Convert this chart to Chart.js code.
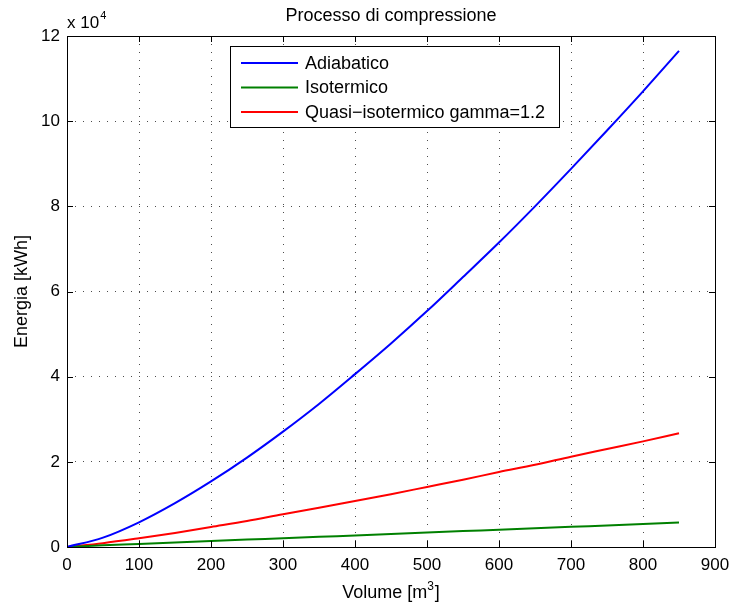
<!DOCTYPE html>
<html lang="it">
<head>
    <meta charset="UTF-8">
    <title>Processo di compressione</title>
    <script src="https://cdn.jsdelivr.net/npm/chart.js@4.4.0/dist/chart.umd.min.js"></script>
    <style>
        * { margin: 0; padding: 0; box-sizing: border-box; }
        body { background: #ffffff; width: 734px; height: 608px; overflow: hidden; }
        .chart-wrapper { position: relative; width: 734px; height: 608px; }
    </style>
</head>
<body>
    <div class="chart-wrapper">
        <canvas id="compChart"></canvas>
    </div>

    <script>
        // dati (volume in m3, energia in kWh)
        const volumes = [0, 50, 100, 150, 200, 250, 300, 350, 400, 450, 500, 550, 600, 650, 700, 750, 800, 850];
        const adiabatico = [0, 2200, 5800, 10300, 15400, 21000, 27100, 33600, 40600, 47800, 55400, 63400, 71500, 80000, 88800, 97800, 107000, 116500];
        const isotermico = [0, 400, 700, 1050, 1400, 1750, 2050, 2400, 2700, 3050, 3400, 3750, 4050, 4400, 4750, 5050, 5400, 5750];
        const quasiIsotermico = [0, 900, 2050, 3300, 4700, 6100, 7700, 9200, 10800, 12400, 14100, 15800, 17600, 19300, 21200, 23000, 24800, 26700];

        const xTicks = [0, 100, 200, 300, 400, 500, 600, 700, 800, 900];
        const yTicks = [0, 2, 4, 6, 8, 10, 12]; // x 10^4
        const yFactor = 10000;

        const seriesLabels = ['Adiabatico', 'Isotermico', 'Quasi\u2212isotermico gamma=1.2'];
        const seriesColors = ['#0000ff', '#008000', '#ff0000'];

        const FONT = "'Liberation Sans', Arial, Helvetica, sans-serif";

        function toPoints(arr) {
            return volumes.map((v, i) => ({ x: v, y: arr[i] }));
        }

        const datasets = [adiabatico, isotermico, quasiIsotermico].map((arr, i) => ({
            label: seriesLabels[i],
            data: toPoints(arr),
            borderColor: seriesColors[i],
            backgroundColor: seriesColors[i],
            borderWidth: 2,
            pointRadius: 0,
            fill: false,
            cubicInterpolationMode: 'monotone'
        }));

        // grid punteggiata solo all'interno
        function gridColor(ctx) {
            const s = ctx.scale;
            if (ctx.tick && (ctx.tick.value === s.min || ctx.tick.value === s.max)) return 'rgba(0,0,0,0)';
            return 'rgba(0,0,0,0.7)';
        }

        // cornice, tacche interne, moltiplicatore, titolo asse x e legenda stile MATLAB
        const matlabFrame = {
            id: 'matlabFrame',
            afterDraw(chart) {
                const { ctx, chartArea: a, scales } = chart;
                ctx.save();
                ctx.strokeStyle = '#000';
                ctx.lineWidth = 1;
                ctx.setLineDash([]);
                ctx.strokeRect(Math.round(a.left) + 0.5, Math.round(a.top) + 0.5,
                    Math.round(a.right - a.left), Math.round(a.bottom - a.top));

                const tl = 6;
                ctx.beginPath();
                xTicks.forEach(t => {
                    const px = Math.round(scales.x.getPixelForValue(t)) + 0.5;
                    ctx.moveTo(px, a.bottom); ctx.lineTo(px, a.bottom - tl);
                    ctx.moveTo(px, a.top); ctx.lineTo(px, a.top + tl);
                });
                yTicks.forEach(t => {
                    const py = Math.round(scales.y.getPixelForValue(t * yFactor)) + 0.5;
                    ctx.moveTo(a.left, py); ctx.lineTo(a.left + tl, py);
                    ctx.moveTo(a.right, py); ctx.lineTo(a.right - tl, py);
                });
                ctx.stroke();

                // x 10^4
                ctx.fillStyle = '#000';
                ctx.textAlign = 'left';
                ctx.textBaseline = 'alphabetic';
                ctx.font = '17px ' + FONT;
                ctx.fillText('x 10', a.left, 28);
                const w = ctx.measureText('x 10').width;
                ctx.font = '11px ' + FONT;
                ctx.fillText('4', a.left + w + 1, 19);

                // titolo asse x con apice
                const main = 'Volume [m', tail = ']';
                ctx.font = '18px ' + FONT;
                const wMain = ctx.measureText(main).width;
                const wTail = ctx.measureText(tail).width;
                ctx.font = '12px ' + FONT;
                const wSup = ctx.measureText('3').width;
                const total = wMain + wSup + wTail + 1;
                let tx = (a.left + a.right) / 2 - total / 2;
                const base = 598;
                ctx.font = '18px ' + FONT;
                ctx.fillText(main, tx, base);
                tx += wMain;
                ctx.font = '12px ' + FONT;
                ctx.fillText('3', tx, base - 8);
                tx += wSup + 1;
                ctx.font = '18px ' + FONT;
                ctx.fillText(tail, tx, base);

                // legenda
                const box = { x: 230, y: 46, w: 329, h: 81 };
                ctx.fillStyle = '#fff';
                ctx.fillRect(box.x, box.y, box.w, box.h);
                ctx.strokeStyle = '#000';
                ctx.lineWidth = 1;
                ctx.strokeRect(box.x + 0.5, box.y + 0.5, box.w, box.h);
                ctx.font = '18px ' + FONT;
                ctx.textBaseline = 'middle';
                chart.data.datasets.forEach((ds, i) => {
                    const y = box.y + 17 + i * 24.5;
                    ctx.strokeStyle = ds.borderColor;
                    ctx.lineWidth = 2;
                    ctx.beginPath();
                    ctx.moveTo(box.x + 11, y);
                    ctx.lineTo(box.x + 68, y);
                    ctx.stroke();
                    ctx.fillStyle = '#000';
                    ctx.fillText(ds.label, box.x + 75, y + 1);
                });
                ctx.restore();
            }
        };

        const config = {
            type: 'line',
            data: { datasets: datasets },
            options: {
                responsive: true,
                maintainAspectRatio: false,
                animation: false,
                events: [],
                layout: { padding: { left: 0, right: 19, top: 0, bottom: 0 } },
                plugins: {
                    legend: { display: false },
                    tooltip: { enabled: false },
                    title: {
                        display: true,
                        text: 'Processo di compressione',
                        color: '#000',
                        fullSize: false,
                        font: { family: FONT, size: 18, weight: 'normal' },
                        padding: { top: 5, bottom: 9.4 }
                    }
                },
                scales: {
                    x: {
                        type: 'linear',
                        min: 0,
                        max: 900,
                        afterFit: s => { s.height = 61; s.paddingLeft = 0; s.paddingRight = 0; },
                        afterBuildTicks: s => { s.ticks = xTicks.map(v => ({ value: v })); },
                        ticks: {
                            color: '#000',
                            font: { family: FONT, size: 17 },
                            padding: 8,
                            maxRotation: 0
                        },
                        grid: { color: gridColor, lineWidth: 1, drawTicks: false },
                        border: { display: false, dash: [1, 7] },
                        title: { display: false }
                    },
                    y: {
                        type: 'linear',
                        min: 0,
                        max: 120000,
                        afterFit: s => { s.width = 67; },
                        afterBuildTicks: s => { s.ticks = yTicks.map(v => ({ value: v * yFactor })); },
                        ticks: {
                            color: '#000',
                            font: { family: FONT, size: 17 },
                            padding: 7,
                            callback: v => String(v / yFactor)
                        },
                        grid: { color: gridColor, lineWidth: 1, drawTicks: false },
                        border: { display: false, dash: [1, 7] },
                        title: {
                            display: true,
                            text: 'Energia [kWh]',
                            color: '#000',
                            font: { family: FONT, size: 18 },
                            padding: { top: 11, bottom: 0 }
                        }
                    }
                }
            },
            plugins: [matlabFrame]
        };

        const ctx = document.getElementById('compChart').getContext('2d');
        const chart = new Chart(ctx, config);
    </script>
</body>
</html>
